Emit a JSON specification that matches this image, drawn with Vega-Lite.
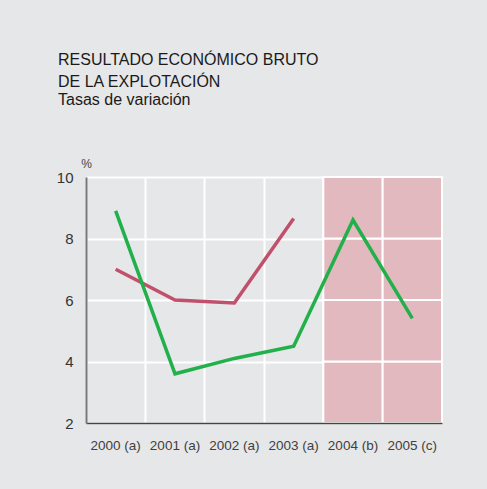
{
  "$schema": "https://vega.github.io/schema/vega-lite/v6.json",
  "width": 356,
  "height": 246,
  "autosize": {"type": "none"},
  "padding": {"left": 86, "top": 177, "right": 45, "bottom": 66},
  "background": "#e6e7e9",
  "title": {
    "text": ["RESULTADO ECONÓMICO BRUTO", "DE LA EXPLOTACIÓN"],
    "subtitle": "Tasas de variación",
    "anchor": "start",
    "frame": "group",
    "dx": -28,
    "offset": 49,
    "font": "Liberation Sans",
    "fontSize": 16,
    "fontWeight": "normal",
    "color": "#1a1a1a",
    "lineHeight": 22,
    "subtitleFont": "Liberation Sans",
    "subtitleFontSize": 16,
    "subtitleColor": "#1a1a1a",
    "subtitlePadding": 2,
    "subtitleLineHeight": 22
  },
  "config": {"view": {"stroke": null}, "font": "Liberation Sans"},
  "datasets": {
    "prevision": [
      {"año": "2004 (b)", "desde": 2, "hasta": 4},
      {"año": "2004 (b)", "desde": 4, "hasta": 6},
      {"año": "2004 (b)", "desde": 6, "hasta": 8},
      {"año": "2004 (b)", "desde": 8, "hasta": 10},
      {"año": "2005 (c)", "desde": 2, "hasta": 4},
      {"año": "2005 (c)", "desde": 4, "hasta": 6},
      {"año": "2005 (c)", "desde": 6, "hasta": 8},
      {"año": "2005 (c)", "desde": 8, "hasta": 10}
    ],
    "series": [
      {"serie": "Serie 1", "año": "2000 (a)", "valor": 7.0},
      {"serie": "Serie 1", "año": "2001 (a)", "valor": 6.0},
      {"serie": "Serie 1", "año": "2002 (a)", "valor": 5.9},
      {"serie": "Serie 1", "año": "2003 (a)", "valor": 8.65},
      {"serie": "Serie 2", "año": "2000 (a)", "valor": 8.9},
      {"serie": "Serie 2", "año": "2001 (a)", "valor": 3.6},
      {"serie": "Serie 2", "año": "2002 (a)", "valor": 4.1},
      {"serie": "Serie 2", "año": "2003 (a)", "valor": 4.5},
      {"serie": "Serie 2", "año": "2004 (b)", "valor": 8.6},
      {"serie": "Serie 2", "año": "2005 (c)", "valor": 5.4}
    ]
  },
  "layer": [
    {
      "data": {"name": "prevision"},
      "mark": {"type": "rect", "fill": "#e3b9c0", "stroke": "white", "strokeWidth": 2},
      "encoding": {
        "x": {
          "field": "año", "type": "nominal",
          "scale": {"domain": ["2000 (a)", "2001 (a)", "2002 (a)", "2003 (a)", "2004 (b)", "2005 (c)"], "paddingInner": 0, "paddingOuter": 0},
          "axis": {"orient": "bottom", "grid": true, "gridColor": "white", "gridWidth": 2, "gridOpacity": 1, "bandPosition": 0, "domain": false, "ticks": false, "labels": false, "title": null, "zindex": 0}
        },
        "y": {
          "field": "desde", "type": "quantitative",
          "scale": {"domain": [2, 10], "nice": false, "zero": false},
          "axis": {"orient": "left", "grid": true, "gridColor": "white", "gridWidth": 2, "gridOpacity": 1, "values": [2, 4, 6, 8, 10], "domain": false, "ticks": false, "labels": false, "title": null, "zindex": 0}
        },
        "y2": {"field": "hasta"}
      }
    },
    {
      "data": {"name": "series"},
      "mark": {"type": "line", "strokeWidth": 3.5},
      "encoding": {
        "x": {
          "field": "año", "type": "nominal",
          "scale": {"domain": ["2000 (a)", "2001 (a)", "2002 (a)", "2003 (a)", "2004 (b)", "2005 (c)"], "paddingInner": 0, "paddingOuter": 0},
          "axis": {"orient": "bottom", "grid": false, "domain": true, "domainColor": "#444444", "domainWidth": 1.5, "ticks": false, "labelPadding": 15, "labelFontSize": 13.5, "labelColor": "#404040", "labelAngle": 0, "labelOverlap": false, "title": null, "zindex": 1}
        },
        "y": {
          "field": "valor", "type": "quantitative",
          "scale": {"domain": [2, 10], "nice": false, "zero": false},
          "axis": {"orient": "left", "grid": false, "values": [2, 4, 6, 8, 10], "domainColor": "#777777", "domainWidth": 2, "ticks": false, "labelPadding": 13, "labelFontSize": 15, "labelColor": "#333333", "title": "%", "titleAngle": 0, "titleX": 0, "titleY": -10, "titleAlign": "center", "titleBaseline": "alphabetic", "titleFontSize": 12, "titleFontWeight": "normal", "titleColor": "#444444", "zindex": 1}
        },
        "color": {
          "field": "serie", "type": "nominal",
          "scale": {"domain": ["Serie 1", "Serie 2"], "range": ["#c0506c", "#22b04b"]},
          "legend": null
        }
      }
    }
  ],
  "resolve": {"axis": {"x": "independent", "y": "independent"}}
}
